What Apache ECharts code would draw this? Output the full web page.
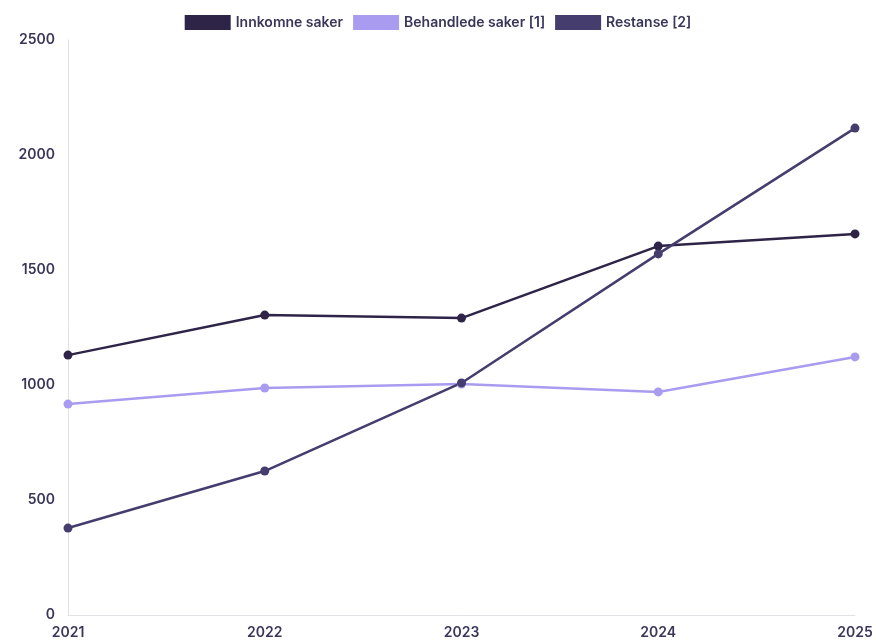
<!DOCTYPE html>
<html><head><meta charset="utf-8">
<script src="https://cdn.jsdelivr.net/npm/echarts@6/dist/echarts.min.js"></script>
<style>html,body{margin:0;padding:0;background:#fff}#c{width:876px;height:644px}</style>
</head><body><div id="c"></div>
<script>
const years = ['2021','2022','2023','2024','2025'];
const innkomne = [1130, 1304, 1291, 1604, 1657];
const behandlede = [917, 987, 1004, 970, 1122];
const restanse = [378, 626, 1009, 1570, 2117];
const yTicks = [0, 500, 1000, 1500, 2000, 2500];

const chart = echarts.init(document.getElementById('c'));
const lbl = {color:'#3a365a', fontFamily:'Inter', fontSize:14, fontWeight:600};
function s(name, data, color){
  return {name, type:'line', data, symbol:'circle', symbolSize:9,
    lineStyle:{color, width:2.5}, itemStyle:{color}, emphasis:{disabled:true}};
}
chart.setOption({
  animation:false,
  legend:{top:10, left:'center', itemWidth:46, itemHeight:15, itemGap:10, icon:'rect',
    textStyle:{color:'#3a365a', fontFamily:'Inter', fontSize:14, fontWeight:600},
    data:['Innkomne saker','Behandlede saker [1]','Restanse [2]']},
  grid:{left:68, right:21, top:40, bottom:29, containLabel:false},
  xAxis:{type:'category', data:years, boundaryGap:false,
    axisLine:{lineStyle:{color:'#e2e2e6'}}, axisTick:{show:false},
    axisLabel:Object.assign({margin:11}, lbl), splitLine:{show:false}},
  yAxis:{type:'value', min:yTicks[0], max:yTicks[yTicks.length-1], interval:500,
    axisLine:{show:true, lineStyle:{color:'#e2e2e6'}}, axisTick:{show:false},
    axisLabel:Object.assign({margin:13, formatter:v=>String(v)}, lbl), splitLine:{show:false}},
  series:[
    s('Innkomne saker', innkomne, '#2e2448'),
    s('Behandlede saker [1]', behandlede, '#a99cf0'),
    s('Restanse [2]', restanse, '#453d6e')
  ]
});
</script></body></html>
